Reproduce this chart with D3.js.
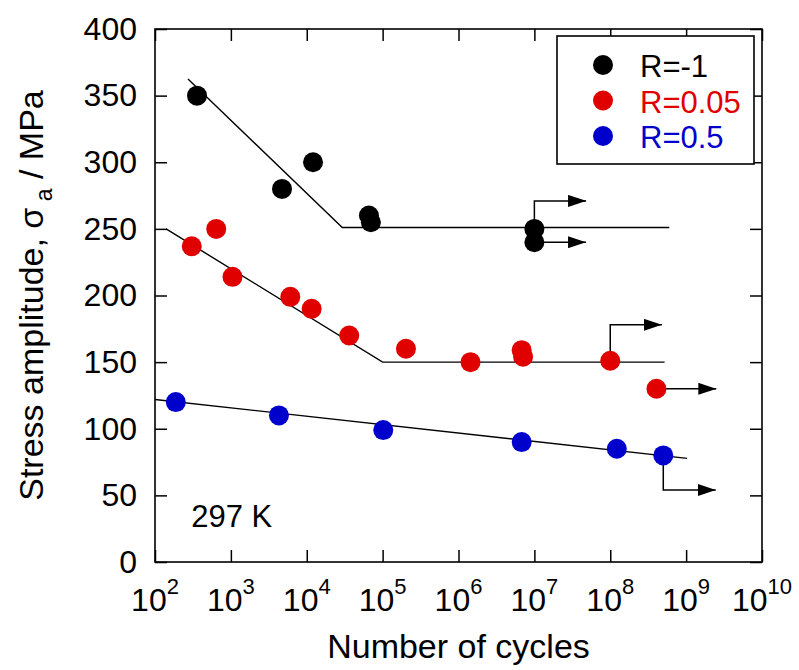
<!DOCTYPE html>
<html>
<head>
<meta charset="utf-8">
<script src="https://cdn.jsdelivr.net/npm/d3@7"></script>
<style>
  body { margin: 0; background: #fff; }
  text { font-family: "Liberation Sans", Arial, Helvetica, sans-serif; }
</style>
</head>
<body>
<div id="chart"></div>
<script>
// data: [cycles, stress amplitude MPa]
const blackPts = [[358, 350], [4720, 280], [12100, 300], [66000, 260], [70000, 255], [1.0e7, 250], [1.0e7, 240]];
const redPts = [[305, 237], [641, 250], [1050, 214], [6070, 199], [11600, 190], [36300, 170], [203000, 160],
                [1.44e6, 150], [6.8e6, 159], [7.1e6, 154], [1.0e8, 151], [4.06e8, 130]];
const bluePts = [[188, 120], [4300, 110], [1.02e5, 99], [6.8e6, 90], [1.22e8, 85], [5.0e8, 80]];

// fitted lines
const blackFit = [[272, 362.5], [29400, 251], [6.0e8, 251]];
const redFit = [[140, 250], [1.0e5, 150], [5.2e8, 150]];
const blueFit = [[100, 122], [1.03e9, 77.8]];

// run-out arrows: start cycles, start stress, turn stress, end cycles
const runouts = [
  {n: 1.0e7, v: 250, turn: 271, end: 4.8e7},
  {n: 1.0e7, v: 240, turn: 240, end: 4.8e7},
  {n: 1.0e8, v: 151, turn: 178, end: 4.8e8},
  {n: 4.06e8, v: 130, turn: 130, end: 2.5e9},
  {n: 5.0e8, v: 80, turn: 54, end: 2.46e9}
];

const decades = [2, 3, 4, 5, 6, 7, 8, 9, 10];
const yTicks = [0, 50, 100, 150, 200, 250, 300, 350, 400];
const legendItems = [
  {label: "R=-1", color: "#000000"},
  {label: "R=0.05", color: "#e00000"},
  {label: "R=0.5", color: "#0000cc"}
];

const W = 799, H = 670;
const pLeft = 155, pRight = 762, pTop = 29, pBottom = 562;

const svg = d3.select("#chart").append("svg")
  .attr("width", W).attr("height", H);

const x = d3.scaleLog().domain([1e2, 1e10]).range([pLeft, pRight]);
const y = d3.scaleLinear().domain([0, 400]).range([pBottom, pTop]);

// arrow head
svg.append("defs").append("marker")
  .attr("id", "head")
  .attr("markerUnits", "userSpaceOnUse")
  .attr("markerWidth", 18).attr("markerHeight", 12)
  .attr("refX", 18).attr("refY", 6)
  .attr("orient", "auto")
  .append("path").attr("d", "M0,0 L18,6 L0,12 Z").attr("fill", "#000");

// ticks on all four sides, pointing inward
svg.append("g").attr("transform", `translate(0,${pBottom})`)
  .call(d3.axisBottom(x).tickValues(decades.map(d => Math.pow(10, d))).tickSize(-12).tickFormat(""))
  .call(g => g.select(".domain").remove());
svg.append("g").attr("transform", `translate(0,${pTop})`)
  .call(d3.axisTop(x).tickValues(decades.map(d => Math.pow(10, d))).tickSize(-12).tickFormat(""))
  .call(g => g.select(".domain").remove());
svg.append("g").attr("transform", `translate(${pLeft},0)`)
  .call(d3.axisLeft(y).tickValues(yTicks).tickSize(-12).tickPadding(18))
  .call(g => g.select(".domain").remove())
  .call(g => g.selectAll("text").attr("font-size", 32).attr("fill", "#000")
    .style("font-family", '"Liberation Sans", Arial, sans-serif'));
svg.append("g").attr("transform", `translate(${pRight},0)`)
  .call(d3.axisRight(y).tickValues(yTicks).tickSize(-12).tickFormat(""))
  .call(g => g.select(".domain").remove());
svg.selectAll(".tick line").attr("stroke", "#000").attr("stroke-width", 1.5);

// frame
svg.append("rect")
  .attr("x", pLeft).attr("y", pTop)
  .attr("width", pRight - pLeft).attr("height", pBottom - pTop)
  .attr("fill", "none").attr("stroke", "#000").attr("stroke-width", 1.6);

// x tick labels 10^n
const xl = svg.append("g").selectAll("text").data(decades).enter().append("text")
  .attr("x", d => x(Math.pow(10, d)))
  .attr("y", 611)
  .attr("text-anchor", "middle")
  .attr("font-size", 32);
xl.append("tspan").text("10");
xl.append("tspan").attr("dy", -17).attr("font-size", 22).text(d => d);

// axis titles
svg.append("text")
  .attr("x", (pLeft + pRight) / 2).attr("y", 658)
  .attr("text-anchor", "middle").attr("font-size", 34)
  .text("Number of cycles");

const yt = svg.append("text")
  .attr("transform", `translate(43,${(pTop + pBottom) / 2}) rotate(-90)`)
  .attr("text-anchor", "middle").attr("font-size", 34);
yt.append("tspan").text("Stress amplitude, σ");
yt.append("tspan").attr("dy", 9).attr("font-size", 23).text(" a");
yt.append("tspan").attr("dy", -9).text(" / MPa");

// fit lines
const line = d3.line().x(d => x(d[0])).y(d => y(d[1]));
[blackFit, redFit, blueFit].forEach(f => {
  svg.append("path").datum(f)
    .attr("d", line)
    .attr("fill", "none").attr("stroke", "#000").attr("stroke-width", 1.4);
});

// run-out arrows
svg.append("g").selectAll("path").data(runouts).enter().append("path")
  .attr("d", d => `M${x(d.n)},${y(d.v)} L${x(d.n)},${y(d.turn)} L${x(d.end)},${y(d.turn)}`)
  .attr("fill", "none").attr("stroke", "#000").attr("stroke-width", 1.5)
  .attr("marker-end", "url(#head)");

// points
const series = [
  {pts: blackPts, color: legendItems[0].color},
  {pts: redPts, color: legendItems[1].color},
  {pts: bluePts, color: legendItems[2].color}
];
series.forEach(s => {
  svg.append("g").selectAll("circle").data(s.pts).enter().append("circle")
    .attr("cx", d => x(d[0])).attr("cy", d => y(d[1]))
    .attr("r", 10).attr("fill", s.color);
});

// annotation
svg.append("text")
  .attr("x", x(300)).attr("y", y(26))
  .attr("font-size", 31).text("297 K");

// legend
const lg = svg.append("g");
lg.append("rect")
  .attr("x", 557).attr("y", 36).attr("width", 197).attr("height", 128)
  .attr("fill", "#fff").attr("stroke", "#000").attr("stroke-width", 1.6);
const li = lg.selectAll("g.item").data(legendItems).enter().append("g")
  .attr("class", "item")
  .attr("transform", (d, i) => `translate(0,${65 + i * 35.5})`);
li.append("circle").attr("cx", 603).attr("cy", 0).attr("r", 10).attr("fill", d => d.color);
li.append("text").attr("x", 640).attr("y", 12)
  .attr("font-size", 31).attr("fill", d => d.color).text(d => d.label);
</script>
</body>
</html>
